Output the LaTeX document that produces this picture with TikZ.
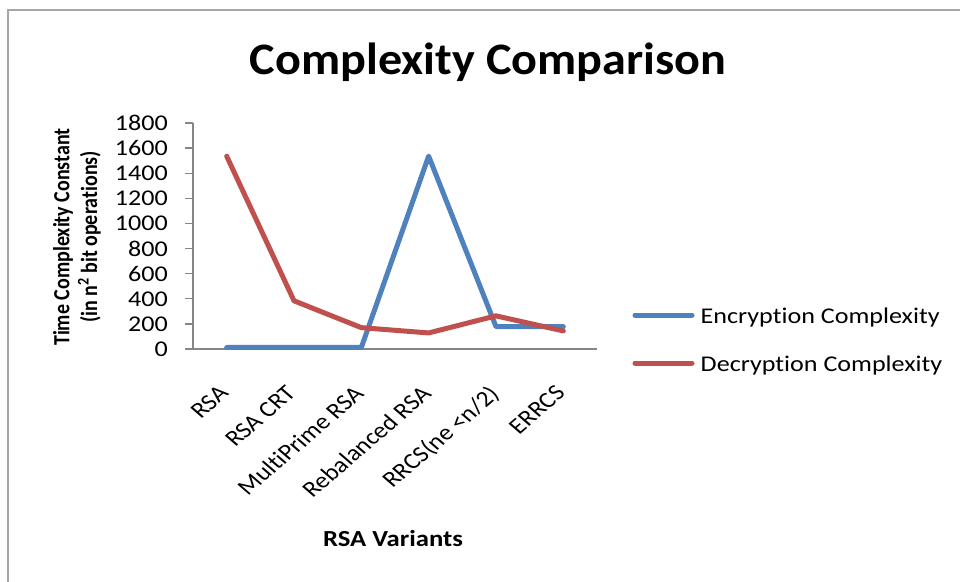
\documentclass[tikz,border=0pt]{standalone}
\usepackage{fontspec}
\setmainfont{Carlito}[Ligatures=NoCommon]
\usepackage{tikz}
\usetikzlibrary{calc}
\definecolor{encblue}{HTML}{4F81BD}
\definecolor{decred}{HTML}{C0504D}
\definecolor{axisgray}{HTML}{868686}
\definecolor{framegray}{HTML}{A6A6A6}

\begin{document}
\begin{tikzpicture}[x=1pt,y=-1pt,
	serie/.style={line width=5pt,line join=round,line cap=round},
	ticklab/.style={font=\fontsize{22.5}{26}\selectfont,inner sep=0pt,text=black,xscale=1.16},
	boldlab/.style={font=\bfseries\fontsize{23}{28}\selectfont,inner sep=0pt,xscale=1.16}]
			\useasboundingbox (0,0) rectangle (960,581);
			\draw[framegray,line width=2.5pt] (8,600) -- (8,10) -- (980,10);
			
			\node[font=\bfseries\fontsize{45}{50}\selectfont,xscale=1.07] (title) at (488,62) {Complexity Comparison};
			\node[font=\bfseries\fontsize{20}{24}\selectfont,inner sep=0pt,xscale=1.16,rotate=90,align=center] (ytitle) at (77,237)
			{Time Complexity Constant\\(in n\textsuperscript{2} bit operations)};
			\node[boldlab] (xtitle) at (393,539) {RSA Variants};
			
			% axes: origin (193,349), 6 categories, 0..1800
			\begin{scope}[shift={(193,349)},x=67.33pt,y=0.12556pt]
			\draw[axisgray,line width=1.3pt] (0,1800) -- (0,0) -- (6,0);
			\foreach \v in {0,200,...,1800}{
				\draw[axisgray,line width=1.3pt] (0,\v) -- ++(-8pt,0);
				\node[ticklab,anchor=east] (tick\v) at ([xshift=-25pt]0,\v) {\v};
			}
			\foreach \name [count=\i] in {RSA,RSA CRT,MultiPrime RSA,Rebalanced RSA,RRCS(ne <n/2),ERRCS}
			\node[ticklab,rotate=45,anchor=north east] (cat\i) at ([xshift=-9pt,yshift=-35pt]\i-0.5,0) {\name};
			
			\draw[serie,encblue] (0.5,12) -- (1.5,12) -- (2.5,12) -- (3.5,1536) -- (4.5,178) -- (5.5,178);
			\draw[serie,decred] (0.5,1536) -- (1.5,384) -- (2.5,170) -- (3.5,128) -- (4.5,264) -- (5.5,144);
			\end{scope}
			
			% legend
			\coordinate (encA) at (635,315);
			\coordinate (decA) at (635,363);
			\draw[serie,encblue] (encA) -- ++(57,0) node[ticklab,anchor=west,xshift=5pt,yshift=-2pt] (enclab) {Encryption Complexity};
			\draw[serie,decred] (decA) -- ++(57,0) node[ticklab,anchor=west,xshift=5pt,yshift=-2pt] (declab) {Decryption Complexity};
		\end{tikzpicture}
\end{document}
